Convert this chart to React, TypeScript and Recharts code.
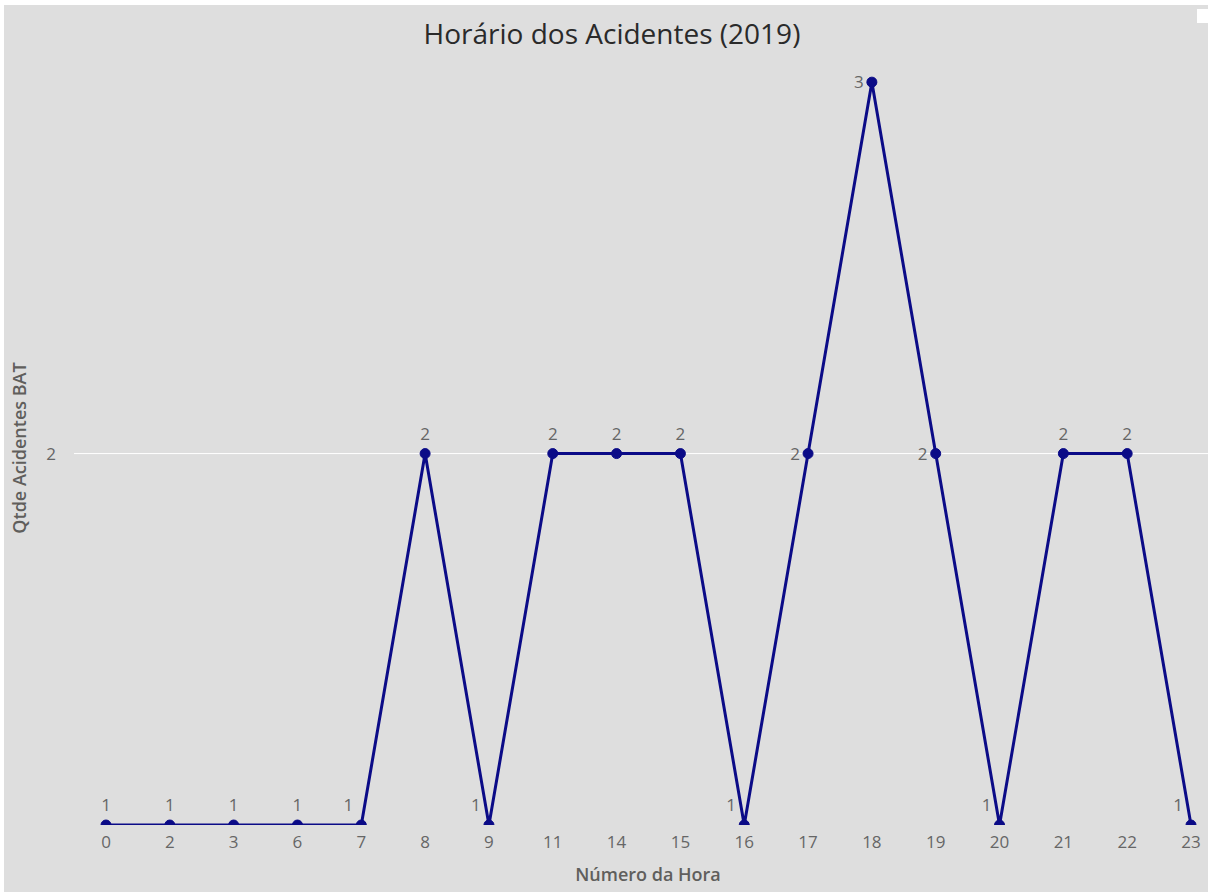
import { LineChart, Line, XAxis, YAxis, ReferenceLine, LabelList } from "recharts";

const hours = ["0", "2", "3", "6", "7", "8", "9", "11", "14", "15", "16", "17", "18", "19", "20", "21", "22", "23"];
const accidents = [1, 1, 1, 1, 1, 2, 1, 2, 2, 2, 1, 2, 3, 2, 1, 2, 2, 1];
const yTicks = [2];

// label placement: up-left for points hugging the bottom, left for points on slopes/peak
const labelUpLeft = ["7", "9", "16", "20", "23"];
const labelLeft = ["17", "18", "19"];

const data = hours.map((hour, i) => ({ hour, qtd: accidents[i] }));

const FONT = "'Open Sans', 'Noto Sans', sans-serif";

const renderValueLabel = (props: any) => {
  const { x, y, value, index } = props;
  const hour = hours[index];
  let tx = x;
  let ty = y - 20;
  if (labelUpLeft.includes(hour)) {
    tx = x - 13;
  } else if (labelLeft.includes(hour)) {
    tx = x - 13;
    ty = y;
  }
  return (
    <text x={tx} y={ty + 6} textAnchor="middle" fontSize={17} fontFamily={FONT} fill="#666">
      {value}
    </text>
  );
};

export default function App() {
  return (
    <div style={{ position: "fixed", left: 0, top: 0, width: 1208, height: 892, background: "#fff" }}>
      <div style={{ position: "absolute", left: 4, top: 5, width: 1204, height: 887, background: "#dedede" }} />
      <div
        style={{
          position: "absolute",
          left: 0,
          top: 14,
          width: 1224,
          textAlign: "center",
          fontFamily: FONT,
          fontSize: 28,
          color: "#2a2a2a",
        }}
      >
        Horário dos Acidentes (2019)
      </div>
      <div style={{ position: "absolute", left: 1197, top: 9, width: 11, height: 14, background: "#fff" }} />
      <div style={{ position: "absolute", left: 0, top: 0 }}>
        <LineChart width={1208} height={892} data={data} margin={{ top: 71, right: 0, bottom: 37, left: 4 }}>
          <XAxis
            dataKey="hour"
            axisLine={false}
            tickLine={false}
            tickSize={0}
            tickMargin={11}
            height={30}
            interval={0}
            padding={{ left: 32, right: 17 }}
            tick={{ fontSize: 17, fill: "#666", fontFamily: FONT }}
            label={{
              value: "Número da Hora",
              position: "bottom",
              offset: 13,
              dx: 7,
              style: { fontSize: 18, fontWeight: 600, fill: "#605e5c", fontFamily: FONT },
            }}
          />
          <YAxis
            width={70}
            domain={[1, 3.03]}
            ticks={yTicks}
            allowDataOverflow
            axisLine={false}
            tickLine={false}
            tickSize={0}
            tickMargin={18}
            tick={{ fontSize: 17, fill: "#666", fontFamily: FONT }}
            label={{
              value: "Qtde Acidentes BAT",
              angle: -90,
              position: "insideLeft",
              offset: 16,
              style: { textAnchor: "middle", fontSize: 18, fontWeight: 600, fill: "#605e5c", fontFamily: FONT },
            }}
          />
          <ReferenceLine y={2} stroke="#ffffff" strokeWidth={1} />
          <Line
            type="linear"
            dataKey="qtd"
            stroke="#0b0b87"
            strokeWidth={3}
            dot={{ r: 5, fill: "#0b0b87", stroke: "#0b0b87", strokeWidth: 1 }}
            activeDot={false}
            isAnimationActive={false}
          >
            <LabelList dataKey="qtd" content={renderValueLabel} />
          </Line>
        </LineChart>
      </div>
    </div>
  );
}
